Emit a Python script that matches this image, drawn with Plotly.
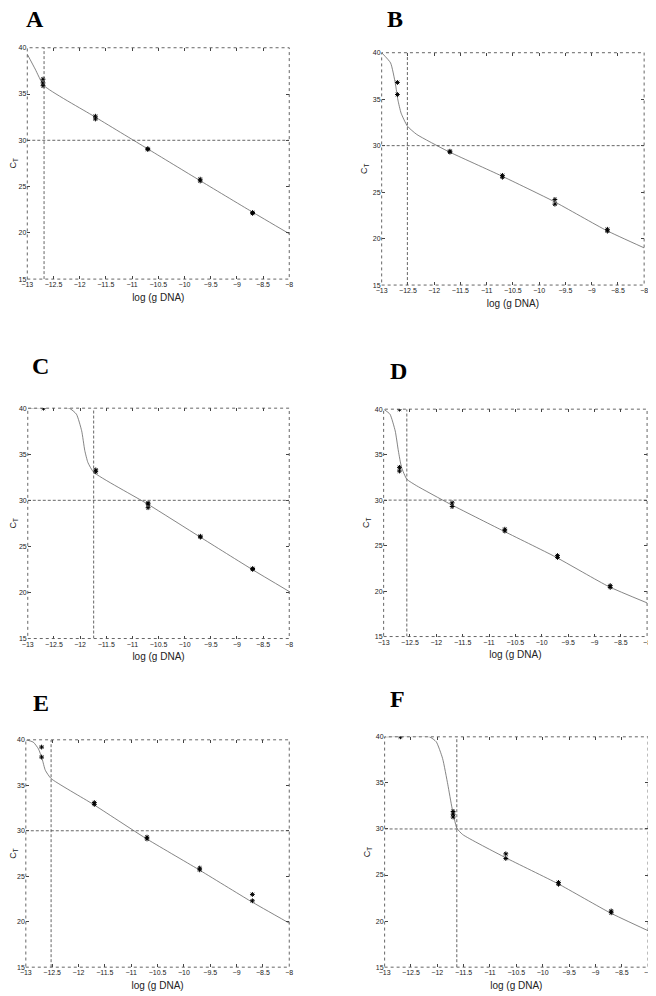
import plotly.graph_objects as go

# the page body adds an 8 px margin, so the figure is drawn 8 px in
W, H = 656, 996
OFF = 8
FW, FH = W - OFF, H - OFF

# template amounts (log g DNA) at which replicates were measured
dna_levels = [-12.7, -11.7, -10.7, -9.7, -8.7]
ct_threshold = 30
x_ticks = [-13, -12.5, -12, -11.5, -11, -10.5, -10, -9.5, -9, -8.5, -8]
y_ticks = [15, 20, 25, 30, 35, 40]

# replicate CT values per template level (40 = not detected)
a_ct = [[36.6, 36.2, 35.9], [32.6, 32.3], [29.1, 29.0], [25.8, 25.6], [22.2, 22.1]]
b_ct = [[36.8, 35.5], [29.4, 29.3], [26.8, 26.6], [24.2, 23.7], [21.0, 20.8]]
c_ct = [[40.0], [33.3, 33.1], [29.7, 29.6, 29.2], [26.1, 26.0], [22.6, 22.5]]
d_ct = [[40.0, 33.6, 33.2], [29.7, 29.3], [26.8, 26.6], [23.9, 23.7], [20.6, 20.4]]
e_ct = [[39.2, 38.1], [33.1, 32.9], [29.3, 29.1], [25.9, 25.7], [23.0, 22.3]]
f_ct = [[40.0], [31.9, 31.6, 31.3], [27.3, 26.8], [24.2, 24.0], [21.1, 20.9]]

# fitted curves
a_fit_x = [-13.0, -12.85, -12.68, -11.73, -10.71, -9.72, -8.72, -8.0]
a_fit_y = [39.3, 37.7, 35.9, 32.6, 29.1, 25.7, 22.3, 19.9]
b_fit_x = [-13.0, -12.83, -12.74, -12.69, -12.63, -12.51, -12.33, -11.74, -10.72, -9.71, -8.72, -8.0]
b_fit_y = [40.0, 38.9, 36.7, 34.9, 33.5, 32.1, 31.2, 29.4, 26.75, 23.97, 20.88, 19.0]
c_fit_x = [-13.0, -12.21, -12.07, -11.97, -11.91, -11.85, -11.74, -10.71, -9.70, -8.71, -8.0]
c_fit_y = [40.0, 40.0, 39.35, 37.55, 35.4, 34.1, 33.05, 29.6, 26.0, 22.5, 20.1]
d_fit_x = [-13.0, -12.88, -12.78, -12.72, -12.66, -12.56, -12.38, -11.75, -10.76, -9.74, -8.73, -8.0]
d_fit_y = [40.0, 39.45, 37.6, 35.4, 33.6, 32.3, 31.6, 29.6, 26.7, 23.76, 20.5, 18.7]
e_fit_x = [-13.0, -12.86, -12.76, -12.69, -12.63, -12.52, -11.73, -10.73, -9.73, -8.74, -8.0]
e_fit_y = [40.0, 39.75, 39.0, 37.9, 36.65, 35.74, 32.94, 29.19, 25.77, 22.28, 19.84]
f_fit_x = [-13.0, -12.15, -12.02, -11.90, -11.80, -11.72, -11.63, -11.52, -10.71, -9.71, -8.72, -8.0]
f_fit_y = [40.0, 40.0, 39.46, 37.66, 34.8, 32.27, 30.1, 29.4, 26.9, 24.06, 20.9, 18.96]

# detection cut-off (vertical dashed line) per panel
cutoffs = [-12.68, -12.51, -11.74, -12.56, -12.52, -11.63]

labels = ["A", "B", "C", "D", "E", "F"]
cts = [a_ct, b_ct, c_ct, d_ct, e_ct, f_ct]
fits_x = [a_fit_x, b_fit_x, c_fit_x, d_fit_x, e_fit_x, f_fit_x]
fits_y = [a_fit_y, b_fit_y, c_fit_y, d_fit_y, e_fit_y, f_fit_y]

# plot boxes in window pixels: left, right, top, bottom
boxes = [
    (20.5, 287, 44, 277),
    (381, 648, 49, 283),
    (21, 287, 407, 639),
    (383, 651, 408, 637),
    (19, 287, 741, 970),
    (384, 652, 738, 970),
]
# centres of the panel letters in window pixels
letter_pos = [(28.5, 15.5), (394.5, 15), (33.5, 365), (398, 369.5), (34.5, 703.5), (397.5, 699.5)]


def fx(p):
    return (p - OFF) / FW


def fy(p):
    return 1 - (p - OFF) / FH


fig = go.Figure()
shapes = []
annotations = []
layout = {}
grey = "#444"

for i in range(6):
    n = "" if i == 0 else str(i + 1)
    xa, ya = "x" + n, "y" + n
    left, right, top, bottom = boxes[i]

    px, py = [], []
    for lvl, reps in zip(dna_levels, cts[i]):
        for v in reps:
            px.append(lvl)
            py.append(v)

    fig.add_trace(go.Scatter(
        x=fits_x[i], y=fits_y[i], mode="lines",
        line=dict(color="#666", width=0.8, shape="spline", smoothing=0.5),
        xaxis=xa, yaxis=ya, showlegend=False, hoverinfo="skip",
    ))
    fig.add_trace(go.Scatter(
        x=px, y=py, mode="markers",
        marker=dict(symbol="asterisk-open", size=4, color="black",
                    line=dict(color="black", width=1)),
        xaxis=xa, yaxis=ya, showlegend=False,
    ))

    layout["xaxis" + n] = dict(
        domain=[fx(left), fx(right)], anchor=ya, range=[-13, -8],
        tickvals=x_ticks, ticks="inside", ticklen=3, tickcolor=grey,
        mirror="ticks", showline=False, showgrid=False, zeroline=False,
        tickfont=dict(size=7, color="#222"),
        title=dict(text="log (g DNA)", font=dict(size=10, color="#222"), standoff=6),
    )
    layout["yaxis" + n] = dict(
        domain=[fy(bottom), fy(top)], anchor=xa, range=[15, 40],
        tickvals=y_ticks, ticks="inside", ticklen=3, tickcolor=grey,
        mirror="ticks", showline=False, showgrid=False, zeroline=False,
        tickfont=dict(size=7, color="#222"),
        title=dict(text="C<sub>T</sub>", font=dict(size=9, color="#222"), standoff=3),
    )

    # dotted frame
    shapes.append(dict(type="rect", xref=xa + " domain", yref=ya + " domain",
                       x0=0, x1=1, y0=0, y1=1,
                       line=dict(color="#555", width=0.9, dash="dot")))
    # threshold line
    shapes.append(dict(type="line", xref=xa, yref=ya, x0=-13, x1=-8,
                       y0=ct_threshold, y1=ct_threshold,
                       line=dict(color="#555", width=0.9, dash="3px,2px")))
    # cut-off line
    shapes.append(dict(type="line", xref=xa, yref=ya, x0=cutoffs[i], x1=cutoffs[i],
                       y0=15, y1=40,
                       line=dict(color="#555", width=0.9, dash="3px,2px")))

    lx, ly = letter_pos[i]
    annotations.append(dict(
        text="<b>" + labels[i] + "</b>", x=fx(lx), y=fy(ly),
        xref="paper", yref="paper", xanchor="center", yanchor="middle",
        showarrow=False,
        font=dict(family="Liberation Serif", size=24, color="black"),
    ))

fig.update_layout(
    width=FW, height=FH,
    margin=dict(l=0, r=0, t=0, b=0),
    paper_bgcolor="white", plot_bgcolor="white",
    font=dict(family="Liberation Sans, Arial, sans-serif"),
    shapes=shapes, annotations=annotations,
    **layout,
)

fig.write_html("out.html")
